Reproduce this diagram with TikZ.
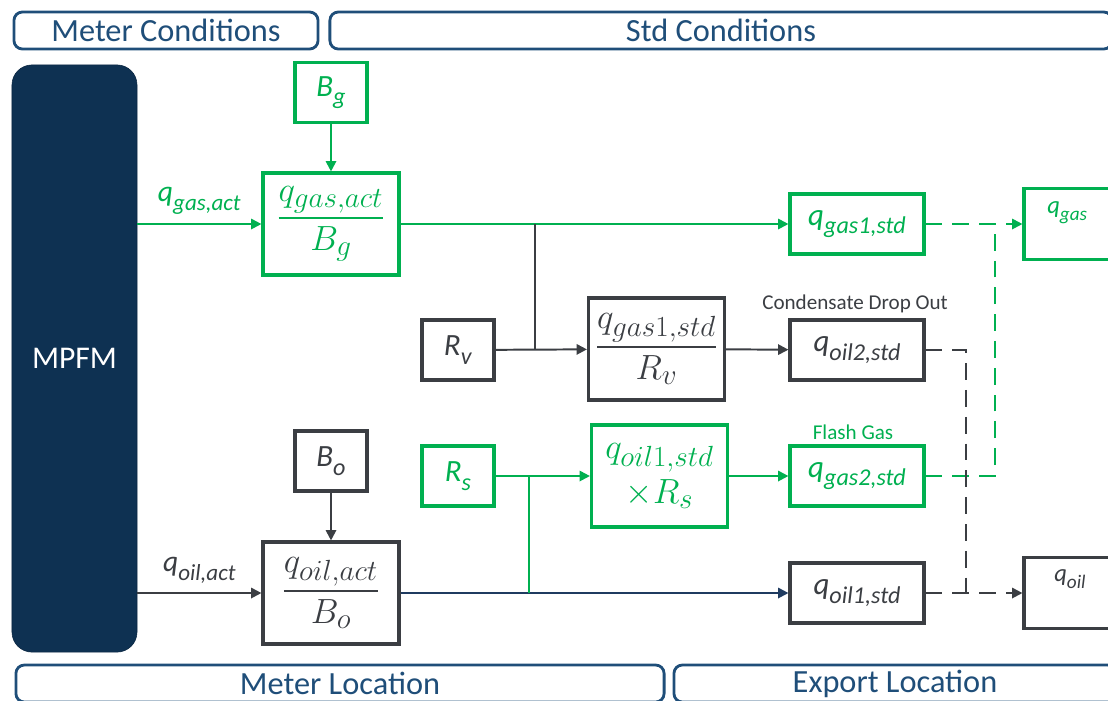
\documentclass[tikz,border=0pt]{standalone}
\usepackage{fontspec}
\setmainfont{Carlito}
\usepackage{amsmath}
\usetikzlibrary{arrows.meta,positioning}
\definecolor{flowgreen}{HTML}{00B050}
\definecolor{flowgray}{HTML}{3B3E43}
\definecolor{mpfmnavy}{HTML}{0E3152}
\definecolor{oilblue}{HTML}{1F3B60}
\definecolor{hdrblue}{HTML}{1F4E79}
% larger subscripts in the formula boxes
\DeclareMathSizes{24}{24}{20}{16}
% italic symbol with a lowered, slightly smaller italic subscript
\makeatletter
\newcommand{\isub}[2]{\textit{#1}\raisebox{-0.28em}{\fontsize{\the\dimexpr0.78\dimexpr\f@size pt\relax\relax}{0pt}\selectfont\textit{#2}}}
\makeatother

\begin{document}
\begin{tikzpicture}[
    x=0.025cm, y=-0.025cm,
    header/.style={draw=hdrblue, line width=2pt, rounded corners=6pt, text=hdrblue, font=\fontsize{23}{27}\selectfont, minimum height=0.925cm, inner sep=0pt},
    gbox/.style={draw=flowgreen, line width=2.2pt, text=flowgreen, font=\fontsize{22}{26}\selectfont, inner sep=0pt, minimum width=1.8cm, minimum height=1.5cm},
    dbox/.style={gbox, draw=flowgray, text=flowgray},
    stdbox/.style={minimum width=3.35cm, minimum height=1.5cm},
    calcbox/.style={minimum width=3.4cm, minimum height=2.55cm, font=\fontsize{24}{27}\selectfont, align=center},
    outbox/.style={minimum width=3.4cm, minimum height=1.775cm},
    note/.style={font=\fontsize{15}{18}\selectfont, inner sep=1pt},
    gline/.style={draw=flowgreen, line width=1.4pt},
    dline/.style={draw=flowgray, line width=1.4pt},
    tip/.style={-{Triangle[length=2.6mm,width=2.6mm]}},
    gdash/.style={gline, dash pattern=on 0.42cm off 0.25cm},
    ddash/.style={dline, dash pattern=on 0.42cm off 0.25cm}
]
    \useasboundingbox (0,0) rectangle (1108,700);
    \clip (0,0) rectangle (1108,700);

    % headers and footers
    \node[header, minimum width=7.6cm] (metercond) at (166,30.5) {Meter Conditions};
    \node[header, minimum width=19.55cm] (stdcond) at (721,30.5) {Std Conditions};
    \node[header, minimum width=16.2cm] (meterloc) at (340,683.5) {Meter Location};
    \node[header, minimum width=11.05cm] (exportloc) at (895,683.5) {Export Location};

    % meter
    \node[fill=mpfmnavy, draw=mpfmnavy!80!black, rounded corners=0.5cm, minimum width=3.125cm, minimum height=14.675cm, text=white, font=\fontsize{22.5}{26}\selectfont] (mpfm) at (74.5,358.5) {MPFM};

    % gas branch
    \node[gbox] (bg) at (331,92.5) {\isub{B}{g}};
    \node[gbox, calcbox] (gasratio) at (331,224) {$\dfrac{q_{gas,act}}{B_g}$};
    \node[dbox] (rv) at (458,350) {\isub{R}{v}};
    \node[dbox, calcbox] (gasrv) at (656.5,349) {$\dfrac{q_{gas1,std}}{R_v}$};
    \node[gbox, stdbox] (qgasone) at (857,224) {\isub{q}{gas1,std}};
    \node[dbox, stdbox] (qoiltwo) at (857,350) {\isub{q}{oil2,std}};
    \node[note, text=flowgray] (condlbl) at (855,304) {Condensate Drop Out};

    % oil branch
    \node[dbox] (bo) at (331,461) {\isub{B}{o}};
    \node[dbox, calcbox] (oilratio) at (331,593) {$\dfrac{q_{oil,act}}{B_o}$};
    \node[gbox] (rs) at (458,476) {\isub{R}{s}};
    \node[gbox, calcbox] (oilrs) at (659.5,476) {$q_{oil1,std}$\\[5pt]$\times R_s$};
    \node[gbox, stdbox] (qgastwo) at (857,476) {\isub{q}{gas2,std}};
    \node[note, text=flowgreen] (flashlbl) at (853,432) {Flash Gas};
    \node[dbox, stdbox] (qoilone) at (857,593) {\isub{q}{oil1,std}};

    % export totals
    \node[gbox, outbox] (qgas) at (1092,224) {};
    \node[text=flowgreen, font=\fontsize{17.5}{20}\selectfont, anchor=west, inner sep=0pt] (qgaslbl) at (1047,213) {\isub{q}{gas}};
    \node[dbox, outbox] (qoil) at (1092,593) {};
    \node[text=flowgray, font=\fontsize{17.5}{20}\selectfont, anchor=west, inner sep=0pt] (qoillbl) at (1054,579) {\isub{q}{oil}};

    % junction points
    \coordinate (jgas) at (535,224);
    \coordinate (joil) at (529,593);
    \coordinate (jexg) at (995,224);
    \coordinate (jexo) at (966,593);

    % gas connectors
    \draw[gline, tip] (mpfm.east |- gasratio) -- node[above=3pt, text=flowgreen, font=\fontsize{21}{24}\selectfont] {\isub{q}{gas,act}} (gasratio);
    \draw[gline, tip] (bg) -- (gasratio);
    \draw[gline, tip] (gasratio) -- (qgasone);
    \draw[dline] (jgas) -- (jgas |- rv);
    \draw[dline, tip] (rv) -- (gasrv);
    \draw[dline, tip] (gasrv) -- (qoiltwo);

    % oil connectors
    \draw[dline, tip] (mpfm.east |- oilratio) -- node[above=3pt, text=flowgray, font=\fontsize{21}{24}\selectfont] {\isub{q}{oil,act}} (oilratio);
    \draw[dline, tip] (bo) -- (oilratio);
    \draw[draw=oilblue, line width=1.4pt, tip] (oilratio) -- (qoilone);
    \draw[gline, tip] (rs) -- (oilrs);
    \draw[gline] (joil |- rs) -- (joil);
    \draw[gline, tip] (oilrs) -- (qgastwo);

    % export connectors
    \draw[gdash, tip] (qgasone) -- (qgas);
    \draw[gdash] (qgastwo) -| (jexg);
    \draw[ddash] (qoiltwo) -| (jexo);
    \draw[ddash, tip] (qoilone) -- (qoil);
\end{tikzpicture}
\end{document}
